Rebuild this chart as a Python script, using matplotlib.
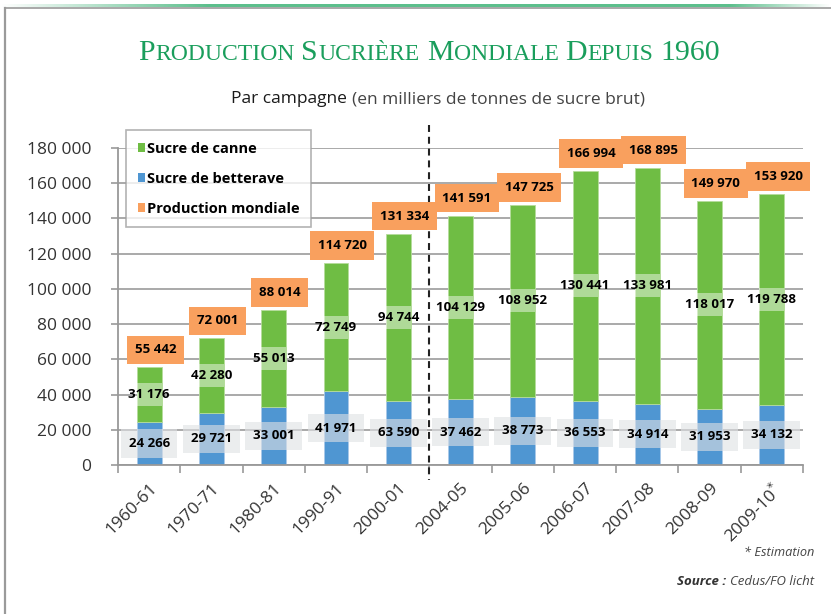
import matplotlib
matplotlib.use('Agg')
import matplotlib.pyplot as plt
import numpy as np
from matplotlib.patches import Patch
from matplotlib.lines import Line2D

plt.rcParams['font.family'] = ['Open Sans', 'DejaVu Sans']
plt.rcParams['lines.scale_dashes'] = False

campagnes = ["1960-61", "1970-71", "1980-81", "1990-91", "2000-01", "2004-05",
             "2005-06", "2006-07", "2007-08", "2008-09", "2009-10$^{*}$"]
betterave = [24266, 29721, 33001, 41971, 36590, 37462, 38773, 36553, 34914, 31953, 34132]
canne = [31176, 42280, 55013, 72749, 94744, 104129, 108952, 130441, 133981, 118017, 119788]
mondiale = [55442, 72001, 88014, 114720, 131334, 141591, 147725, 166994, 168895, 149970, 153920]
betterave_labels = ["24 266", "29 721", "33 001", "41 971", "63 590", "37 462",
                    "38 773", "36 553", "34 914", "31 953", "34 132"]
canne_labels = ["31 176", "42 280", "55 013", "72 749", "94 744", "104 129",
                "108 952", "130 441", "133 981", "118 017", "119 788"]
mondiale_labels = ["55 442", "72 001", "88 014", "114 720", "131 334", "141 591",
                   "147 725", "166 994", "168 895", "149 970", "153 920"]
yticks = [0, 20000, 40000, 60000, 80000, 100000, 120000, 140000, 160000, 180000]
ytick_labels = ["0", "20 000", "40 000", "60 000", "80 000", "100 000",
                "120 000", "140 000", "160 000", "180 000"]

GREEN = '#6fbd44'
BLUE = '#4f96d2'
ORANGE = '#f9a05e'
GRID = '#a3a3a3'
TXT = '#333333'

W, H = 831, 614
fig = plt.figure(figsize=(W / 100, H / 100), dpi=100)
fig.patch.set_facecolor('white')

ax = fig.add_axes([118 / W, 1 - 465 / H, (803 - 118) / W, (465 - 148) / H])
n = len(campagnes)
x = np.arange(n)
ax.set_xlim(-0.5, n - 0.5)
ax.set_ylim(0, 180000)

bw = 0.40
ax.bar(x, betterave, width=bw, color=BLUE, edgecolor='#a9c8e8', linewidth=0.6, zorder=2)
ax.bar(x, canne, bottom=betterave, width=bw, color=GREEN, edgecolor='#b5dc9c', linewidth=0.6, zorder=2)

# pixel -> data conversion for band heights
px2data = 180000 / (465 - 148)
band_h = 23 * px2data

for i in range(n):
    mid_c = betterave[i] + canne[i] / 2
    ax.bar(x[i], band_h, bottom=mid_c - band_h / 2, width=bw, color='white',
           alpha=0.45, linewidth=0, zorder=3)
    ax.text(x[i], mid_c, canne_labels[i], ha='center', va='center', fontsize=9.5,
            fontweight='bold', color='black', zorder=5)
    mid_b = betterave[i] / 2
    ax.text(x[i], mid_b, betterave_labels[i], ha='center', va='center', fontsize=9.5,
            fontweight='bold', color='black', zorder=5,
            bbox=dict(boxstyle='square,pad=0.58', fc='#dfe1e4', ec='none', alpha=0.6))
    ax.annotate(mondiale_labels[i], xy=(x[i], mondiale[i]), xytext=(4.5, 12.5),
                textcoords='offset points', ha='center', va='center', fontsize=9.5,
                fontweight='bold', color='black', zorder=6, annotation_clip=False,
                bbox=dict(boxstyle='square,pad=0.58', fc=ORANGE, ec='none'))

ax.set_yticks(yticks, ytick_labels)
ax.yaxis.grid(True, color=GRID, linewidth=1.3, zorder=0)
ax.set_axisbelow(True)
for s in ['top', 'right']:
    ax.spines[s].set_visible(False)
ax.spines['left'].set_color('#999999')
ax.spines['left'].set_linewidth(1.3)
ax.spines['bottom'].set_color('#999999')
ax.spines['bottom'].set_linewidth(1.3)
ax.tick_params(axis='y', length=5, color='#999999', width=1.2, pad=14,
               labelsize=12.5, labelcolor=TXT)
ax.set_xticks(x, campagnes, rotation=45, ha='right', rotation_mode='anchor')
ax.tick_params(axis='x', which='major', length=0, pad=11, labelsize=12.5, labelcolor=TXT)
ax.set_xticks(np.arange(-0.5, n, 1.0), minor=True)
ax.tick_params(axis='x', which='minor', length=6, color='#999999', width=1.2)

ax.plot([4.5, 4.5], [193000, -8500], color='#222222', linewidth=1.5,
        dashes=(5, 3.5), clip_on=False, zorder=4)

handles = [Patch(facecolor=GREEN, edgecolor='none', label='Sucre de canne'),
           Patch(facecolor=BLUE, edgecolor='none', label='Sucre de betterave'),
           Patch(facecolor=ORANGE, edgecolor='none', label='Production mondiale')]
leg = fig.legend(handles=handles, loc='upper left', bbox_to_anchor=(126 / W, 1 - 130 / H),
                 bbox_transform=fig.transFigure, frameon=True, fancybox=False,
                 prop={'weight': 'bold', 'size': 10.5}, handlelength=0.5, handleheight=0.5,
                 handletextpad=0.15, labelspacing=1.1, borderpad=0.8, borderaxespad=0)
leg.get_frame().set_edgecolor('#a0a0a0')
leg.get_frame().set_linewidth(1.2)
leg.set_zorder(10)

renderer = fig.canvas.get_renderer()

def draw_pieces(pieces, xpx, ypx, align='center'):
    texts, widths = [], []
    for s, kw, gap in pieces:
        t = fig.text(0, 1 - ypx / H, s, va='baseline', **kw)
        bb = t.get_window_extent(renderer)
        texts.append(t)
        widths.append(bb.width + gap)
    total = sum(widths)
    start = xpx - total / 2 if align == 'center' else xpx - total
    cur = start
    for t, w in zip(texts, widths):
        t.set_x(cur / W)
        cur += w

TITLE_C = '#1a9e5c'
big = dict(family=['Liberation Serif'], fontsize=21.5, color=TITLE_C)
small = dict(family=['Liberation Serif'], fontsize=17, color=TITLE_C)
title_words = ["PRODUCTION", "SUCRIÈRE", "MONDIALE", "DEPUIS"]
pieces = []
for w in title_words:
    pieces.append((w[0], big, 0.5))
    pieces.append((w[1:], small, 7))
pieces.append(("1960", big, 0))
draw_pieces(pieces, 429, 60)

sub = [("Par campagne", dict(fontsize=12.5, color='#1a1a1a'), 4.5),
       ("(en milliers de tonnes de sucre brut)", dict(fontsize=12.5, color='#444444'), 0)]
draw_pieces(sub, 438, 103)

fig.text(814 / W, 1 - 556 / H, "* Estimation", ha='right', va='baseline',
         fontsize=9.2, style='italic', color='#444444')
src = [("Source :", dict(fontsize=9.5, style='italic', fontweight='bold', color='#333333'), 3.5),
       ("Cedus/FO licht", dict(fontsize=9.5, style='italic', color='#444444'), 0)]
draw_pieces(src, 814, 585, align='right')

fig.add_artist(Line2D([5 / W, 5 / W], [0, 1 - 8 / H], transform=fig.transFigure,
                      color='#9a9a9a', linewidth=1.6))
fig.add_artist(Line2D([5 / W, 1], [1 - 8 / H, 1 - 8 / H], transform=fig.transFigure,
                      color='#9a9a9a', linewidth=1.2))
bax = fig.add_axes([0, 1 - 7.5 / H, 1, 4 / H])
bax.axis('off')
g = np.zeros((1, 400, 4))
g[..., 0] = 0x5c / 255
g[..., 1] = 0xbf / 255
g[..., 2] = 0x8c / 255
tt = np.linspace(0, 1, 400)
g[0, :, 3] = np.clip(np.minimum(tt / 0.25, (1 - tt) / 0.12), 0, 1)
bax.imshow(g, aspect='auto', extent=[0, 1, 0, 1])

fig.savefig('out.png', dpi=100, facecolor='white')
